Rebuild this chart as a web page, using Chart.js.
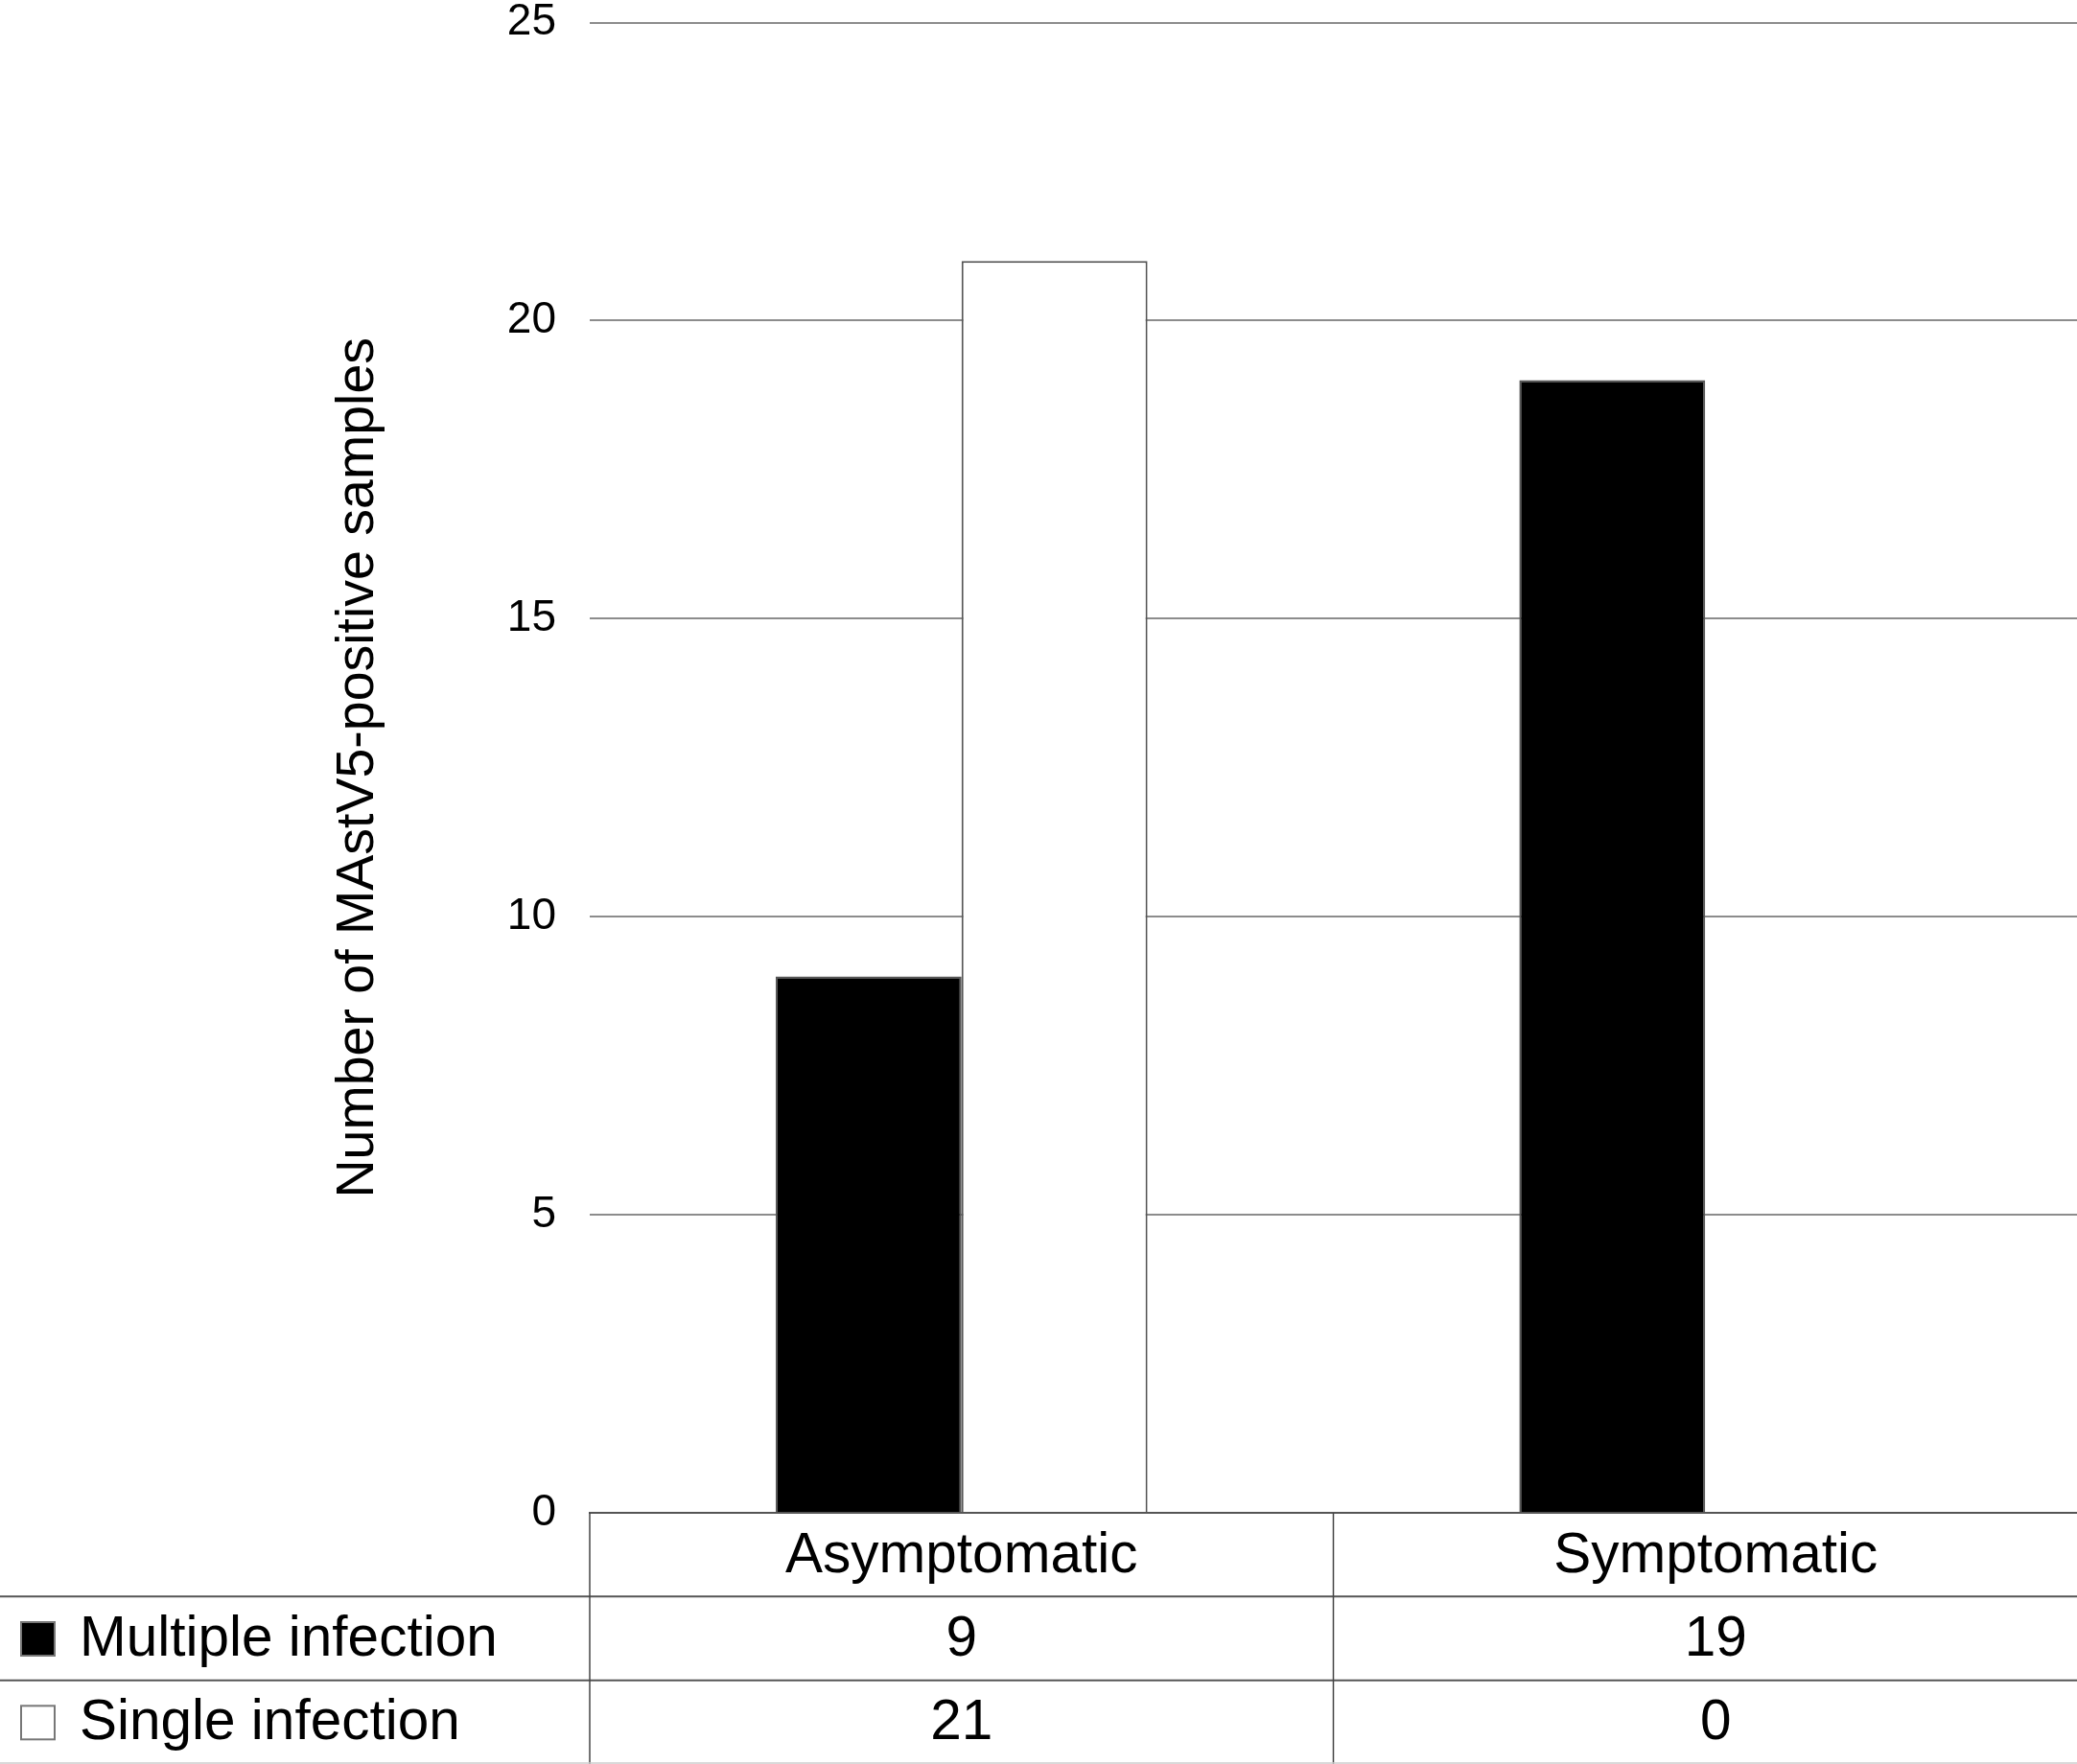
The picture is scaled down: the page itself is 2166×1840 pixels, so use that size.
<!DOCTYPE html>
<html lang="en">
<head>
<meta charset="utf-8">
<title>MAstV5-positive samples</title>
<script src="https://cdn.jsdelivr.net/npm/chart.js@4.4.0/dist/chart.umd.min.js"></script>
<style>
    html, body { margin: 0; padding: 0; background: #ffffff; }
    #chart-wrap { position: relative; width: 2166px; height: 1840px; }
</style>
</head>
<body>
<div id="chart-wrap"><canvas id="infection-chart"></canvas></div>
<script>
// chart data
const categories = ['Asymptomatic', 'Symptomatic'];
const seriesLabels = ['Multiple infection', 'Single infection'];
const multipleInfection = [9, 19];
const singleInfection = [21, 0];
const yTickValues = [0, 5, 10, 15, 20, 25];

const FONT_FAMILY = '"Liberation Sans", Arial, Helvetica, sans-serif';
const TABLE_OVERHANG = 22; // table runs a little past the right edge of the picture

/**
 * Data table under the plot (category header + one row per series)
 */
const dataTablePlugin = {
    id: 'dataTable',
    afterDraw(chart) {
        const { ctx, chartArea, scales } = chart;
        const xScale = scales.x;
        const top = chartArea.bottom;
        const bottom = chart.height;
        const rowH = (bottom - top) / 3;
        const left = chartArea.left;
        const right = chart.width;
        const split = (xScale.getPixelForValue(0) + xScale.getPixelForValue(1)) / 2;
        const colCenters = [(left + split) / 2, (split + right + TABLE_OVERHANG) / 2];

        ctx.save();

        // row lines
        ctx.strokeStyle = '#555555';
        ctx.lineWidth = 2;
        [1, 2].forEach(i => {
            const y = top + rowH * i;
            ctx.beginPath();
            ctx.moveTo(0, y);
            ctx.lineTo(right, y);
            ctx.stroke();
        });

        // column lines
        ctx.strokeStyle = '#444444';
        ctx.lineWidth = 1.5;
        [left, split].forEach(x => {
            ctx.beginPath();
            ctx.moveTo(x, top);
            ctx.lineTo(x, bottom);
            ctx.stroke();
        });

        // faint bottom edge
        ctx.strokeStyle = '#cccccc';
        ctx.lineWidth = 1.5;
        ctx.beginPath();
        ctx.moveTo(0, bottom - 1);
        ctx.lineTo(right, bottom - 1);
        ctx.stroke();

        ctx.fillStyle = '#000000';
        ctx.font = '58.5px ' + FONT_FAMILY;
        ctx.textBaseline = 'middle';

        // header: category names
        ctx.textAlign = 'center';
        categories.forEach((name, i) => {
            ctx.fillText(name, colCenters[i], top + rowH / 2 + 2);
        });

        // series rows
        chart.data.datasets.forEach((ds, r) => {
            const cy = top + rowH * (r + 1) + rowH / 2;

            // legend swatch
            ctx.fillStyle = ds.backgroundColor;
            ctx.fillRect(22, cy - 17, 35, 35);
            ctx.strokeStyle = '#777777';
            ctx.lineWidth = 2;
            ctx.strokeRect(22, cy - 17, 35, 35);

            ctx.fillStyle = '#000000';
            ctx.textAlign = 'left';
            ctx.fillText(ds.label, 83, cy + 2);

            ctx.textAlign = 'center';
            ds.data.forEach((v, i) => {
                ctx.fillText(String(v), colCenters[i], cy + 2);
            });
        });

        ctx.restore();
    }
};

const ctx = document.getElementById('infection-chart').getContext('2d');
const infectionChart = new Chart(ctx, {
    type: 'bar',
    data: {
        labels: categories,
        datasets: [
            {
                label: seriesLabels[0],
                data: multipleInfection,
                backgroundColor: '#000000',
                borderColor: '#555555',
                borderWidth: 2
            },
            {
                label: seriesLabels[1],
                data: singleInfection,
                backgroundColor: '#ffffff',
                borderColor: '#555555',
                borderWidth: 2
            }
        ]
    },
    options: {
        responsive: true,
        maintainAspectRatio: false,
        animation: false,
        devicePixelRatio: 1,
        datasets: {
            bar: {
                categoryPercentage: 0.5,
                barPercentage: 1.0
            }
        },
        layout: {
            autoPadding: false,
            padding: { top: 23.5, right: 0, bottom: 262, left: 0 }
        },
        scales: {
            x: {
                grid: { display: false, drawTicks: false },
                border: { display: true, color: '#555555', width: 2 },
                ticks: { display: false }
            },
            y: {
                min: 0,
                max: 25,
                afterBuildTicks(scale) {
                    scale.ticks = yTickValues.map(v => ({ value: v }));
                },
                afterFit(scale) {
                    // fixed axis width, no extra room reserved for the end labels
                    scale.width = 615;
                    scale.paddingTop = 0;
                    scale.paddingBottom = 0;
                },
                grid: {
                    color: '#8c8c8c',
                    lineWidth: 2,
                    drawTicks: false
                },
                border: { display: false },
                ticks: {
                    padding: 35,
                    color: '#000000',
                    font: { family: FONT_FAMILY, size: 46, lineHeight: 1 }
                },
                title: {
                    display: true,
                    text: 'Number of MAstV5-positive samples',
                    color: '#000000',
                    font: { family: FONT_FAMILY, size: 55.5, lineHeight: 1.2 },
                    padding: { top: 340, bottom: 0 }
                }
            }
        },
        plugins: {
            legend: { display: false },
            tooltip: { enabled: false }
        }
    },
    plugins: [dataTablePlugin]
});
</script>
</body>
</html>
